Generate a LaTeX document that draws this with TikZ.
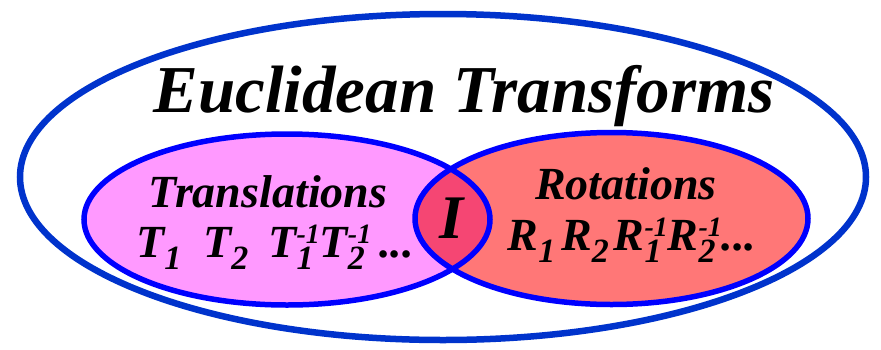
\documentclass[tikz,border=0pt]{standalone}
\usepackage{fontspec}
\setmainfont{Liberation Serif}
\definecolor{outerblue}{RGB}{0,51,204}
\definecolor{lineblue}{RGB}{0,0,255}
\definecolor{transpink}{RGB}{255,153,255}
\definecolor{rotred}{RGB}{255,119,119}
\definecolor{interred}{RGB}{245,70,115}
\newcommand\mysub[1]{\raisebox{-12pt}{\fontsize{34}{34}\selectfont #1}}
\newcommand\mysubsup[2]{\raisebox{-12pt}{\fontsize{34}{34}\selectfont\rlap{#2}}\raisebox{14pt}{\fontsize{28}{28}\selectfont #1}}
\begin{document}
\begin{tikzpicture}[x=1pt,y=-1pt,
  lbl/.style={font=\bfseries\itshape\fontsize{46}{50}\selectfont, inner sep=0pt, anchor=base, text=black},
  ring/.style={lineblue, line width=5.5pt}]
\useasboundingbox (0,0) rectangle (881,349);
\draw[outerblue, line width=6.5pt] (443,177) ellipse [x radius=423, y radius=163];
\fill[transpink] (287,219.5) ellipse [x radius=203, y radius=85.5];
\fill[rotred] (611.5,218.5) ellipse [x radius=196.5, y radius=86];
\begin{scope}
  \clip (287,219.5) ellipse [x radius=203, y radius=85.5];
  \fill[interred] (611.5,218.5) ellipse [x radius=196.5, y radius=86];
\end{scope}
\draw[ring] (287,219.5) ellipse [x radius=203, y radius=85.5];
\draw[ring] (611.5,218.5) ellipse [x radius=196.5, y radius=86];
\node[lbl, font=\bfseries\itshape\fontsize{67}{70}\selectfont] (title) at (464,112) {Euclidean Transforms};
\node[lbl] (trans) at (268,207) {Translations};
\node[lbl] (tlist) at (275,257) {T\mysub{1}\hspace{22pt}T\mysub{2}\hspace{20pt}T\mysubsup{-1}{1}T\mysubsup{-1}{2}\hspace{8pt}...};
\node[lbl] (rot) at (626,199) {Rotations};
\node[lbl] (rlist) at (632,250) {R\mysub{1}\hspace{6pt}R\mysub{2}\hspace{5pt}R\mysubsup{-1}{1}R\mysubsup{-1}{2}...};
\node[lbl, font=\bfseries\itshape\fontsize{62}{64}\selectfont] (ident) at (452,238) {I};
\end{tikzpicture}
\end{document}
